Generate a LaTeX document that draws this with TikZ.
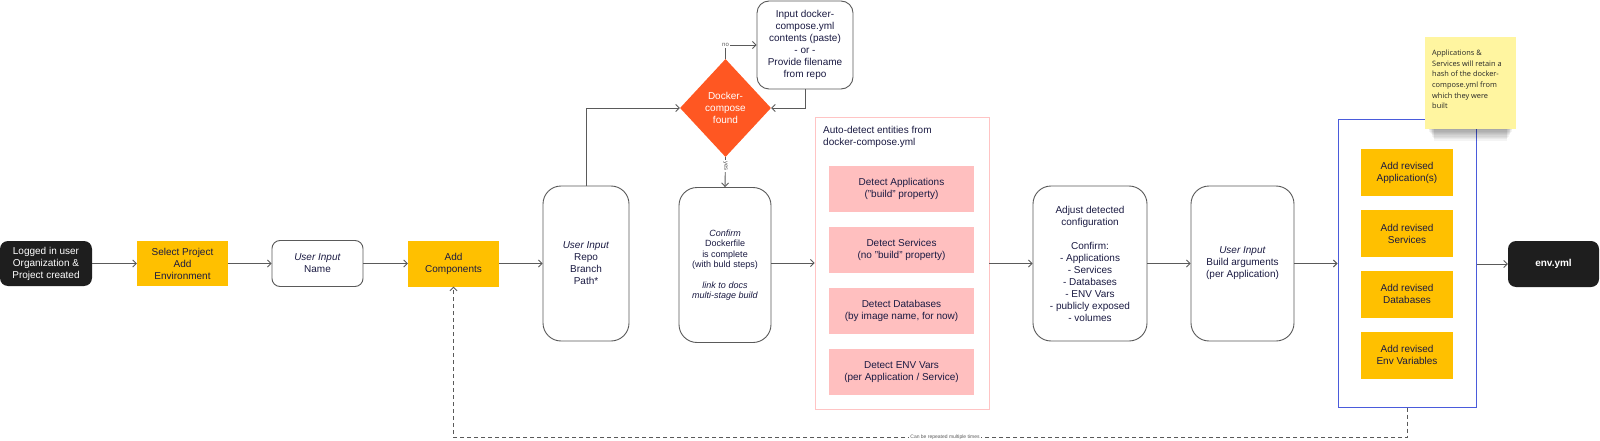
\documentclass[tikz,border=0pt]{standalone}
\usepackage{fontspec}
\setmainfont{Liberation Sans}
\newfontfamily\notefont{Open Sans}
\usetikzlibrary{arrows.meta,shapes.geometric,calc}
\definecolor{txt}{HTML}{1A1A42}
\definecolor{ylw}{HTML}{FFC000}
\definecolor{pinkfill}{HTML}{FFBFBF}
\definecolor{pinkline}{HTML}{FFC4C4}
\definecolor{orng}{HTML}{FF5722}
\definecolor{bluel}{HTML}{4A5BDB}
\definecolor{blk}{HTML}{1E1E1E}
\definecolor{lne}{HTML}{5A5A5A}
\definecolor{notey}{HTML}{FFF5A0}
\begin{document}
\begin{tikzpicture}[x=1pt,y=-1pt,
 every node/.style={inner sep=0pt, align=center, text=txt, font=\fontsize{10}{12}\selectfont},
 blackbox/.style={fill=blk, rounded corners=8pt, text=white},
 yellowbox/.style={fill=ylw},
 whitebox/.style={draw=lne, line width=0.9pt, rounded corners=8pt},
 tallbox/.style={draw=lne, line width=0.9pt, rounded corners=18pt},
 pinkbox/.style={fill=pinkfill},
 arr/.style={draw=lne, line width=0.9pt, -{Straight Barb[length=3.5pt,width=7pt]}},
 sz/.style 2 args={minimum width=#1pt, minimum height=#2pt},
 tinylabel/.style={fill=white, text=lne, font=\fontsize{6}{7}\selectfont, inner sep=1pt},
]
\fill[white] (0,0) rectangle (1600,441);
\useasboundingbox (0,0) rectangle (1600,441);

% main row
\node[blackbox, sz={92}{45}] (logged) at (46,263.5) {Logged in user\\Organization \&\\Project created};
\node[yellowbox, sz={91}{45}] (select) at (182.5,263.5) {Select Project\\Add\\Environment};
\node[whitebox, sz={91}{46}] (name) at (317.5,263.5) {\textit{User Input}\\Name};
\node[yellowbox, sz={91}{46}] (addc) at (453.5,263.5) {Add\\Components};
\node[tallbox, sz={86}{155}] (repo) at (586,263.5) {\textit{User Input}\\Repo\\Branch\\Path*};
\node[tallbox, sz={92}{155}, font=\fontsize{9}{10.5}\selectfont] (confirm) at (725,265)
  {\textit{Confirm}\\Dockerfile\\is complete\\(with buld steps)\\[10pt]\textit{link to docs}\\\textit{multi-stage build}};

% decision
\node[diamond, fill=orng, minimum width=91pt, minimum height=98pt, text=white] (dia) at (725.5,108) {Docker-\\compose\\found};
\node[whitebox, rounded corners=12pt, sz={96}{88}] (inp) at (805,45) {Input docker-\\compose.yml\\contents (paste)\\- or -\\Provide filename\\from repo};

% auto detect group
\node[draw=pinkline, line width=0.9pt, sz={174}{292}] (auto) at (902,263) {};
\node[anchor=north west, align=left, font=\fontsize{10}{11.7}\selectfont] (autotitle) at (823,126) {Auto-detect entities from\\docker-compose.yml};
\node[pinkbox, sz={145}{46}] (d1) at (901.5,189) {Detect Applications\\("build" property)};
\node[pinkbox, sz={145}{46}] (d2) at (901.5,250) {Detect Services\\(no "build" property)};
\node[pinkbox, sz={145}{46}] (d3) at (901.5,311) {Detect Databases\\(by image name, for now)};
\node[pinkbox, sz={145}{46}] (d4) at (901.5,372) {Detect ENV Vars\\(per Application / Service)};

\node[tallbox, sz={114}{155}] (adj) at (1090,263.5) {Adjust detected\\configuration\\[12pt]Confirm:\\- Applications\\- Services\\- Databases\\- ENV Vars\\- publicly exposed\\- volumes};
\node[tallbox, sz={103}{155}] (build) at (1242.5,263.5) {\textit{User Input}\\Build arguments\\(per Application)};

% revised group
\node[draw=bluel, line width=1pt, sz={138}{287}] (blue) at (1407,263.5) {};
\node[yellowbox, sz={92}{47}] (r1) at (1407,172.5) {Add revised\\Application(s)};
\node[yellowbox, sz={92}{47}] (r2) at (1407,233.5) {Add revised\\Services};
\node[yellowbox, sz={92}{47}] (r3) at (1407,294) {Add revised\\Databases};
\node[yellowbox, sz={92}{47}] (r4) at (1407,355) {Add revised\\Env Variables};
\node[blackbox, sz={91}{46}, font=\fontsize{10}{12}\selectfont\bfseries] (env) at (1553.5,264) {env.yml};

% sticky note
\foreach \i in {1,...,9} {
  \fill[black, opacity=0.045] (1428+\i*0.7, 80+\i*1.3) rectangle (1513-\i*0.7, 129+\i*1.3);
}
\node[fill=notey, sz={91}{92}] (note) at (1470.5,83) {};
\node[anchor=north west, align=left, font=\notefont\fontsize{7.4}{10.7}\selectfont, text=black!85] (notetext) at (1432,49.5)
  {Applications \&\\Services will retain a\\hash of the docker-\\compose.yml from\\which they were\\built};

% connectors
\draw[arr] (logged.east) -- (select.west);
\draw[arr] (select.east) -- (name.west);
\draw[arr] (name.east) -- (addc.west);
\draw[arr] (addc.east) -- (repo.west);
\draw[arr] (repo.north) |- (dia.west);
\draw[arr] (dia.north) |- (inp.west) node[pos=0.5, tinylabel] (nolabel) {no};
\draw[arr] (inp.south) |- (dia.east);
\draw[arr] (dia.south) -- node[pos=0.3, rotate=-90, tinylabel] (yeslabel) {yes} (confirm.north);
\draw[arr] (confirm.east |- auto.west) -- (auto.west);
\draw[arr] (auto.east |- adj.west) -- (adj.west);
\draw[arr] (adj.east) -- (build.west);
\draw[arr] (build.east) -- (blue.west);
\draw[arr] (blue.east |- env.west) -- (env.west);
\draw[arr, dash pattern=on 4pt off 3pt] (blue.south) -- ++(0,30) coordinate (loopr) -| (addc.south);
\node[tinylabel, font=\fontsize{5}{6}\selectfont] (replabel) at (945,437) {Can be repeated multiple times};
\end{tikzpicture}
\end{document}
